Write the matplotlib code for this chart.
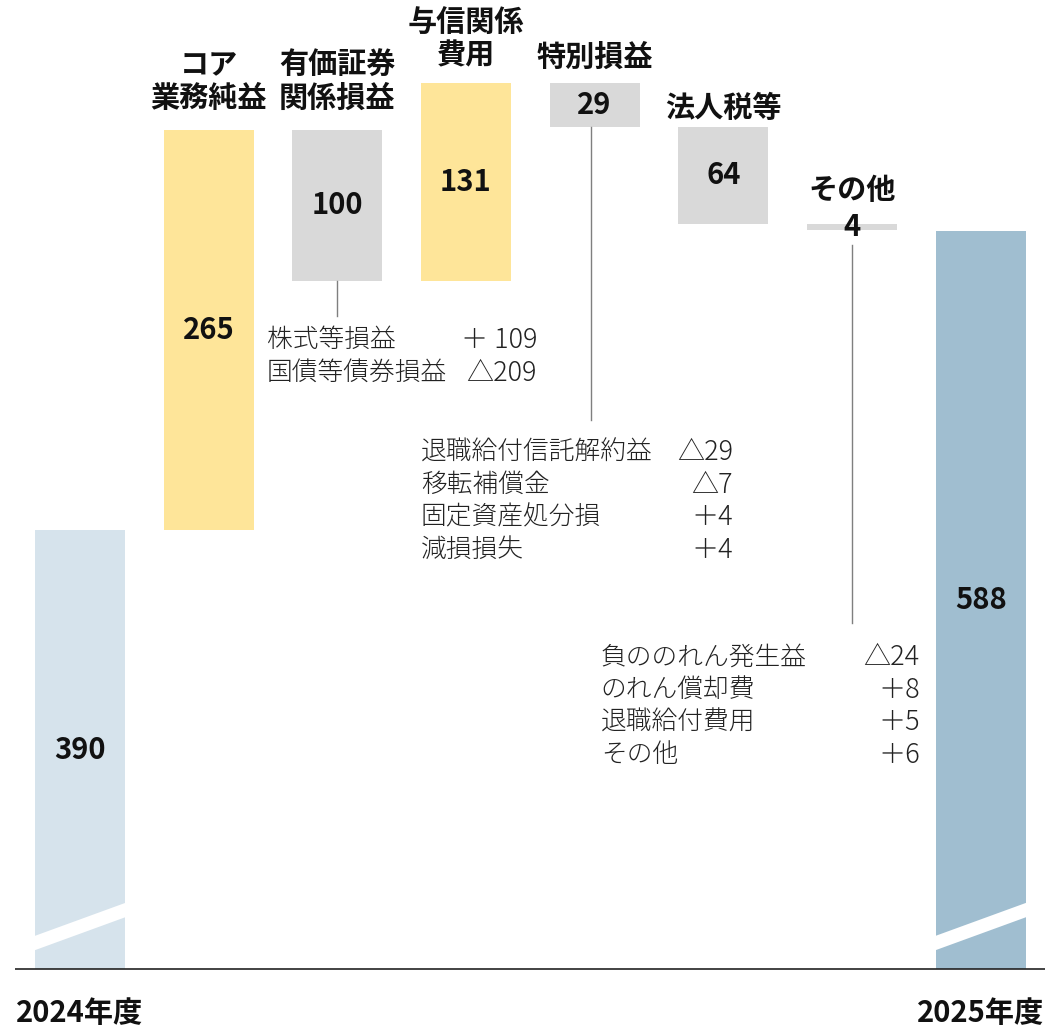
import numpy as np
import matplotlib.pyplot as plt
from matplotlib.patches import Polygon

plt.rcParams['font.family'] = ['Noto Sans CJK JP', 'DejaVu Sans']

# waterfall data
CATEGORIES = ["2024年度", "コア\n業務純益", "有価証券\n関係損益", "与信関係\n費用",
              "特別損益", "法人税等", "その他", "2025年度"]
VALUES = [390, 265, -100, 131, -29, -64, -4, 588]
IS_TOTAL = [True, False, False, False, False, False, False, True]

# breakdown notes
SEC_ITEMS = ["株式等損益", "国債等債券損益"]
SEC_VALUES = ["＋ 109", "△209"]
SPECIAL_ITEMS = ["退職給付信託解約益", "移転補償金", "固定資産処分損", "減損損失"]
SPECIAL_VALUES = ["△29", "△7", "＋4", "＋4"]
OTHER_ITEMS = ["負ののれん発生益", "のれん償却費", "退職給付費用", "その他"]
OTHER_VALUES = ["△24", "＋8", "＋5", "＋6"]

AXIS_FLOOR = 99.1  # axis is broken, bars start here

TOTAL_COLORS = ["#d6e3ec", "#a0bed0"]
UP_COLOR = "#fee599"
DOWN_COLOR = "#d9d9d9"
LINE_COLOR = "#7f7f7f"
TEXT_COLOR = "#111111"

fig = plt.figure(figsize=(10.6, 10.29), dpi=100)
ax = fig.add_axes([0, 0, 1, 1])
ax.set_xlim(-0.6216, 7.6166)
ax.set_ylim(59.4, 741.1)
ax.axis('off')

WIDTH = 0.70
ROW = 32.5  # px between text rows


def stacked(x, y, lines, dy, **kw):
    """draw lines of text stacked downwards from (x, y) in pixel steps"""
    for i, s in enumerate(lines):
        ax.annotate(s, (x, y), xytext=(0, -i * dy), textcoords='offset pixels',
                    va='center', **kw)


bold = dict(fontsize=21, fontweight='bold', color=TEXT_COLOR, ha='center')
label_gap = [0, 32, 32, 28, 26, 19, 34, 0]

running = 0
tops = []
bottoms = []
t = 0
for i, (cat, v) in enumerate(zip(CATEGORIES, VALUES)):
    if IS_TOTAL[i]:
        color = TOTAL_COLORS[t]
        t += 1
        ax.bar(i, v - AXIS_FLOOR, bottom=AXIS_FLOOR, width=WIDTH, color=color, zorder=1)
        running = v
        top, bottom = v, AXIS_FLOOR
        # break mark
        x0, x1 = i - WIDTH / 2 - 0.02, i + WIDTH / 2 + 0.02
        ax.add_patch(Polygon([(x0, 111.0), (x1, 134.0), (x1, 143.5), (x0, 120.5)],
                             closed=True, color='white', zorder=2, lw=0))
    else:
        start, end = running, running + v
        bottom, top = min(start, end), max(start, end)
        color = UP_COLOR if v > 0 else DOWN_COLOR
        ax.bar(i, top - bottom, bottom=bottom, width=WIDTH, color=color, zorder=1)
        running = end
        lines = cat.split("\n")
        n = len(lines)
        for k, s in enumerate(lines):
            ax.annotate(s, (i, top), xytext=(0, label_gap[i] + (n - 1 - k) * 33),
                        textcoords='offset pixels', va='center', **bold)
    tops.append(top)
    bottoms.append(bottom)
    ax.text(i, (top + bottom) / 2, f"{abs(v)}", va='center', zorder=3, **bold)

# year labels under the axis
for i in (0, len(CATEGORIES) - 1):
    ax.text(i, 70.0, CATEGORIES[i], va='center', **bold)

# baseline
ax.plot([-0.505, 7.497], [AXIS_FLOOR, AXIS_FLOOR], color='#222222', lw=1.2,
        solid_capstyle='butt', zorder=3)

# connectors
ax.plot([2, 2], [bottoms[2], 531.7], color=LINE_COLOR, lw=1)
ax.plot([4 - 0.03, 4 - 0.03], [bottoms[4], 462.8], color=LINE_COLOR, lw=1)
ax.plot([6, 6], [578.8, 328.4], color=LINE_COLOR, lw=1)

note = dict(fontsize=18.5, fontweight='light', color='#222222')
num = dict(fontsize=19.5, fontweight='light', color='#222222')
stacked(1.453, 515.8, SEC_ITEMS, ROW, ha='left', **note)
stacked(3.551, 515.8, SEC_VALUES, ROW, ha='right', **num)
stacked(2.649, 441.6, SPECIAL_ITEMS, ROW, ha='left', **note)
stacked(5.073, 441.6, SPECIAL_VALUES, ROW, ha='right', **num)
stacked(4.048, 305.8, OTHER_ITEMS, ROW, ha='left', **note)
stacked(6.526, 305.8, OTHER_VALUES, ROW, ha='right', **num)

fig.savefig("out.png", dpi=100)
